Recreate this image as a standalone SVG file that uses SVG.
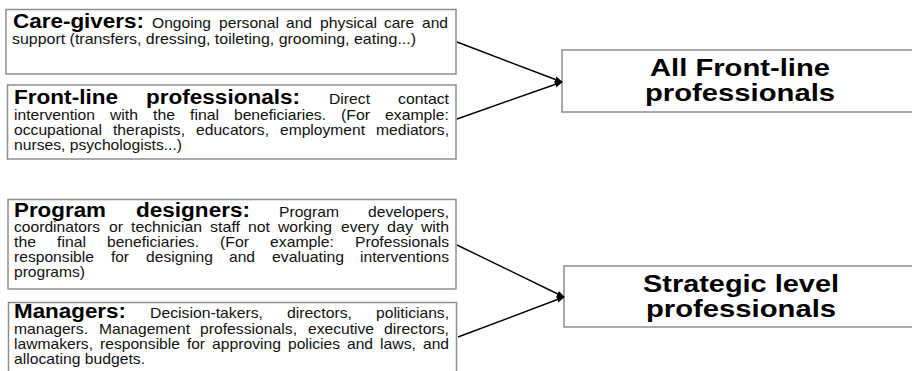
<svg xmlns="http://www.w3.org/2000/svg" width="912" height="371" viewBox="0 0 912 371">
  <style>
    .box { fill: #ffffff; stroke: #8f8f8f; stroke-width: 1.5; }
    .lbl { font-family: "Liberation Sans", Arial, sans-serif; font-weight: bold; font-size: 19.5px; fill: #000; }
    .txt { font-family: "Liberation Sans", Arial, sans-serif; font-size: 14.5px; fill: #111; }
    .ttl { font-family: "Liberation Sans", Arial, sans-serif; font-weight: bold; font-size: 23px; fill: #000; text-anchor: middle; }
    .conn { stroke: #000; stroke-width: 1.4; fill: none; marker-end: url(#arrow); }
  </style>
  <defs>
    <marker id="arrow" viewBox="0 0 10 10" refX="9" refY="5" markerWidth="8" markerHeight="8" orient="auto" markerUnits="userSpaceOnUse">
      <path d="M0,1 L10,5 L0,9 Z" fill="#000"/>
    </marker>
  </defs>
  <rect width="912" height="371" fill="#ffffff"/>

  <!-- Care-givers -->
  <g id="care-givers">
    <rect class="box" x="6" y="9.5" width="450" height="64.5"/>
    <text class="lbl" x="13" y="28" textLength="131" lengthAdjust="spacingAndGlyphs">Care-givers:</text>
    <text class="txt" x="152" y="28" textLength="59" lengthAdjust="spacingAndGlyphs">Ongoing</text>
    <text class="txt" x="219" y="28" textLength="60" lengthAdjust="spacingAndGlyphs">personal</text>
    <text class="txt" x="286" y="28" textLength="26" lengthAdjust="spacingAndGlyphs">and</text>
    <text class="txt" x="320" y="28" textLength="57" lengthAdjust="spacingAndGlyphs">physical</text>
    <text class="txt" x="384" y="28" textLength="30" lengthAdjust="spacingAndGlyphs">care</text>
    <text class="txt" x="422" y="28" textLength="26" lengthAdjust="spacingAndGlyphs">and</text>
    <text class="txt" x="12" y="44" textLength="404" lengthAdjust="spacingAndGlyphs">support (transfers, dressing, toileting, grooming, eating...)</text>
  </g>

  <!-- Front-line professionals -->
  <g id="front-line">
    <rect class="box" x="7.5" y="85" width="448.5" height="74"/>
    <text class="lbl" x="14" y="104" textLength="104" lengthAdjust="spacingAndGlyphs">Front-line</text>
    <text class="lbl" x="146" y="104" textLength="154" lengthAdjust="spacingAndGlyphs">professionals:</text>
    <text class="txt" x="329" y="104" textLength="41" lengthAdjust="spacingAndGlyphs">Direct</text>
    <text class="txt" x="398" y="104" textLength="51" lengthAdjust="spacingAndGlyphs">contact</text>

    <text class="txt" x="14" y="120" textLength="81" lengthAdjust="spacingAndGlyphs">intervention</text>
    <text class="txt" x="110" y="120" textLength="28" lengthAdjust="spacingAndGlyphs">with</text>
    <text class="txt" x="153" y="120" textLength="22" lengthAdjust="spacingAndGlyphs">the</text>
    <text class="txt" x="190" y="120" textLength="29" lengthAdjust="spacingAndGlyphs">final</text>
    <text class="txt" x="234" y="120" textLength="92" lengthAdjust="spacingAndGlyphs">beneficiaries.</text>
    <text class="txt" x="341" y="120" textLength="29" lengthAdjust="spacingAndGlyphs">(For</text>
    <text class="txt" x="385" y="120" textLength="64" lengthAdjust="spacingAndGlyphs">example:</text>

    <text class="txt" x="14" y="135" textLength="88" lengthAdjust="spacingAndGlyphs">occupational</text>
    <text class="txt" x="113" y="135" textLength="72" lengthAdjust="spacingAndGlyphs">therapists,</text>
    <text class="txt" x="196" y="135" textLength="73" lengthAdjust="spacingAndGlyphs">educators,</text>
    <text class="txt" x="280" y="135" textLength="85" lengthAdjust="spacingAndGlyphs">employment</text>
    <text class="txt" x="376" y="135" textLength="73" lengthAdjust="spacingAndGlyphs">mediators,</text>

    <text class="txt" x="14" y="150" textLength="168" lengthAdjust="spacingAndGlyphs">nurses, psychologists...)</text>
  </g>

  <!-- Program designers -->
  <g id="program-designers">
    <rect class="box" x="8" y="199.5" width="448" height="89.5"/>
    <text class="lbl" x="14" y="216.5" textLength="92" lengthAdjust="spacingAndGlyphs">Program</text>
    <text class="lbl" x="136" y="216.5" textLength="114" lengthAdjust="spacingAndGlyphs">designers:</text>
    <text class="txt" x="279" y="216.5" textLength="60" lengthAdjust="spacingAndGlyphs">Program</text>
    <text class="txt" x="368" y="216.5" textLength="81" lengthAdjust="spacingAndGlyphs">developers,</text>

    <text class="txt" x="14" y="232" textLength="86" lengthAdjust="spacingAndGlyphs">coordinators</text>
    <text class="txt" x="109" y="232" textLength="14" lengthAdjust="spacingAndGlyphs">or</text>
    <text class="txt" x="131" y="232" textLength="71" lengthAdjust="spacingAndGlyphs">technician</text>
    <text class="txt" x="210" y="232" textLength="30" lengthAdjust="spacingAndGlyphs">staff</text>
    <text class="txt" x="248" y="232" textLength="22" lengthAdjust="spacingAndGlyphs">not</text>
    <text class="txt" x="278" y="232" textLength="54" lengthAdjust="spacingAndGlyphs">working</text>
    <text class="txt" x="341" y="232" textLength="38" lengthAdjust="spacingAndGlyphs">every</text>
    <text class="txt" x="387" y="232" textLength="26" lengthAdjust="spacingAndGlyphs">day</text>
    <text class="txt" x="421" y="232" textLength="28" lengthAdjust="spacingAndGlyphs">with</text>

    <text class="txt" x="14" y="247" textLength="22" lengthAdjust="spacingAndGlyphs">the</text>
    <text class="txt" x="57" y="247" textLength="29" lengthAdjust="spacingAndGlyphs">final</text>
    <text class="txt" x="107" y="247" textLength="92" lengthAdjust="spacingAndGlyphs">beneficiaries.</text>
    <text class="txt" x="220" y="247" textLength="29" lengthAdjust="spacingAndGlyphs">(For</text>
    <text class="txt" x="270" y="247" textLength="64" lengthAdjust="spacingAndGlyphs">example:</text>
    <text class="txt" x="355" y="247" textLength="94" lengthAdjust="spacingAndGlyphs">Professionals</text>

    <text class="txt" x="14" y="262" textLength="80" lengthAdjust="spacingAndGlyphs">responsible</text>
    <text class="txt" x="111" y="262" textLength="18" lengthAdjust="spacingAndGlyphs">for</text>
    <text class="txt" x="146" y="262" textLength="67" lengthAdjust="spacingAndGlyphs">designing</text>
    <text class="txt" x="229" y="262" textLength="26" lengthAdjust="spacingAndGlyphs">and</text>
    <text class="txt" x="272" y="262" textLength="72" lengthAdjust="spacingAndGlyphs">evaluating</text>
    <text class="txt" x="360" y="262" textLength="89" lengthAdjust="spacingAndGlyphs">interventions</text>

    <text class="txt" x="14" y="277" textLength="71" lengthAdjust="spacingAndGlyphs">programs)</text>
  </g>

  <!-- Managers -->
  <g id="managers">
    <rect class="box" x="8.5" y="302.5" width="448" height="80"/>
    <text class="lbl" x="14" y="318" textLength="112" lengthAdjust="spacingAndGlyphs">Managers:</text>
    <text class="txt" x="150" y="318" textLength="113" lengthAdjust="spacingAndGlyphs">Decision-takers,</text>
    <text class="txt" x="287" y="318" textLength="65" lengthAdjust="spacingAndGlyphs">directors,</text>
    <text class="txt" x="376" y="318" textLength="73" lengthAdjust="spacingAndGlyphs">politicians,</text>

    <text class="txt" x="14" y="333.5" textLength="74" lengthAdjust="spacingAndGlyphs">managers.</text>
    <text class="txt" x="99" y="333.5" textLength="91" lengthAdjust="spacingAndGlyphs">Management</text>
    <text class="txt" x="200" y="333.5" textLength="97" lengthAdjust="spacingAndGlyphs">professionals,</text>
    <text class="txt" x="308" y="333.5" textLength="66" lengthAdjust="spacingAndGlyphs">executive</text>
    <text class="txt" x="384" y="333.5" textLength="65" lengthAdjust="spacingAndGlyphs">directors,</text>

    <text class="txt" x="14" y="348.5" textLength="79" lengthAdjust="spacingAndGlyphs">lawmakers,</text>
    <text class="txt" x="100" y="348.5" textLength="80" lengthAdjust="spacingAndGlyphs">responsible</text>
    <text class="txt" x="187" y="348.5" textLength="18" lengthAdjust="spacingAndGlyphs">for</text>
    <text class="txt" x="212" y="348.5" textLength="69" lengthAdjust="spacingAndGlyphs">approving</text>
    <text class="txt" x="288" y="348.5" textLength="52" lengthAdjust="spacingAndGlyphs">policies</text>
    <text class="txt" x="347" y="348.5" textLength="26" lengthAdjust="spacingAndGlyphs">and</text>
    <text class="txt" x="380" y="348.5" textLength="36" lengthAdjust="spacingAndGlyphs">laws,</text>
    <text class="txt" x="423" y="348.5" textLength="26" lengthAdjust="spacingAndGlyphs">and</text>

    <text class="txt" x="14" y="363.5" textLength="131" lengthAdjust="spacingAndGlyphs">allocating budgets.</text>
  </g>

  <!-- All Front-line professionals -->
  <g id="all-front-line">
    <rect class="box" x="562" y="50" width="360" height="62"/>
    <text class="ttl" x="740" y="76" textLength="180" lengthAdjust="spacingAndGlyphs">All Front-line</text>
    <text class="ttl" x="740" y="101" textLength="190" lengthAdjust="spacingAndGlyphs">professionals</text>
  </g>

  <!-- Strategic level professionals -->
  <g id="strategic-level">
    <rect class="box" x="564" y="266" width="360" height="61"/>
    <text class="ttl" x="741" y="292" textLength="196" lengthAdjust="spacingAndGlyphs">Strategic level</text>
    <text class="ttl" x="741" y="317" textLength="190" lengthAdjust="spacingAndGlyphs">professionals</text>
  </g>

  <!-- Connectors -->
  <g id="connectors">
    <path class="conn" d="M457,42 L562,82"/>
    <path class="conn" d="M457,119 L562,82"/>
    <path class="conn" d="M457,245 L564,297"/>
    <path class="conn" d="M458,337 L564,297"/>
  </g>
</svg>
